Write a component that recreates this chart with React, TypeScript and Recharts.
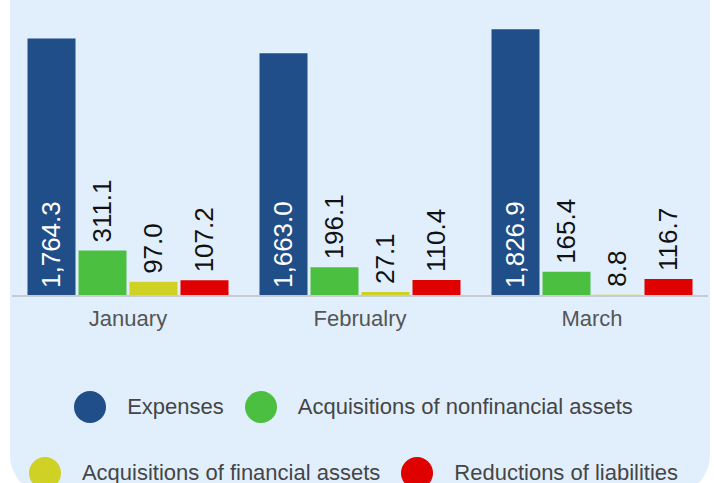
import { BarChart, Bar, XAxis, YAxis } from "recharts";

const months = ["January", "Februalry", "March"];
const expenses = [1764.3, 1663.0, 1826.9];
const nonfinancial = [311.1, 196.1, 165.4];
const financial = [97.0, 27.1, 8.8];
const liabilities = [107.2, 110.4, 116.7];

const series = [
  { key: "expenses", name: "Expenses", color: "#1f4e89", values: expenses },
  { key: "nonfinancial", name: "Acquisitions of nonfinancial assets", color: "#4bbf40", values: nonfinancial },
  { key: "financial", name: "Acquisitions of financial assets", color: "#cfd125", values: financial },
  { key: "liabilities", name: "Reductions of liabilities", color: "#df0000", values: liabilities },
];

const data = months.map((month, i) => {
  const row: Record<string, string | number> = { month };
  series.forEach((s) => {
    row[s.key] = s.values[i];
  });
  return row;
});

const FONT = '"Liberation Sans", Arial, sans-serif';

const fmt = (v: number) =>
  v.toLocaleString("en-US", { minimumFractionDigits: 1, maximumFractionDigits: 1 });

// inside = white label at the bottom of the bar, otherwise black label above it
function makeLabel(inside: boolean) {
  return (props: any) => {
    const { x, y, width, height, value } = props;
    const cx = Number(x) + Number(width) / 2;
    const y0 = inside ? Number(y) + Number(height) - 8 : Number(y) - 8;
    return (
      <text
        transform={`translate(${cx + 8}, ${y0}) rotate(-90)`}
        textAnchor="start"
        fontSize={26}
        fontFamily={FONT}
        fill={inside ? "#ffffff" : "#111111"}
      >
        {fmt(Number(value))}
      </text>
    );
  };
}

export default function App() {
  return (
    <div
      style={{
        position: "absolute",
        left: 0,
        top: 0,
        width: 714,
        height: 483,
        overflow: "hidden",
        background: "#ffffff",
        fontFamily: FONT,
      }}
    >
      <div
        style={{
          position: "absolute",
          left: 10,
          top: -40,
          width: 700,
          height: 535,
          borderRadius: 40,
          background: "#e1effd",
        }}
      />
      <div style={{ position: "absolute", left: 10, top: 0 }}>
        <BarChart
          width={700}
          height={340}
          data={data}
          margin={{ top: 4, right: 2, left: 2, bottom: 0 }}
          barGap={3}
          barCategoryGap={15.5}
        >
          <XAxis
            dataKey="month"
            tickLine={false}
            tickSize={0}
            tickMargin={14}
            height={44}
            axisLine={{ stroke: "#c5cbd2", strokeWidth: 2 }}
            tick={{ fontSize: 22, fill: "#555555", fontFamily: FONT }}
          />
          <YAxis hide domain={[0, 2000]} />
          {series.map((s, i) => (
            <Bar
              key={s.key}
              dataKey={s.key}
              name={s.name}
              fill={s.color}
              isAnimationActive={false}
              label={makeLabel(i === 0)}
            />
          ))}
        </BarChart>
      </div>
      <div
        style={{
          position: "absolute",
          left: 14,
          top: 391,
          width: 700,
          display: "flex",
          flexWrap: "wrap",
          justifyContent: "center",
          rowGap: 34,
        }}
      >
        {series.map((s) => (
          <div
            key={s.key}
            style={{ display: "flex", alignItems: "center", height: 32, marginRight: 21 }}
          >
            <span
              style={{
                width: 32,
                height: 32,
                borderRadius: 16,
                background: s.color,
                marginRight: 21,
                display: "inline-block",
              }}
            />
            <span style={{ fontSize: 22, color: "#454545", whiteSpace: "nowrap" }}>{s.name}</span>
          </div>
        ))}
      </div>
    </div>
  );
}
